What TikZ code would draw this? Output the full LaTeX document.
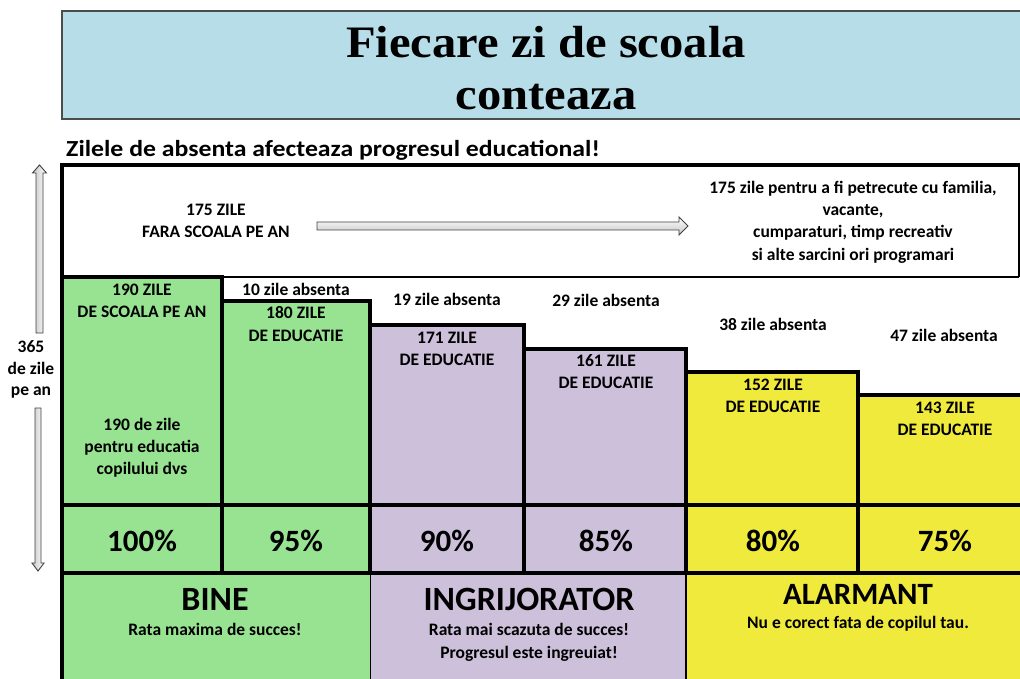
\documentclass[tikz,border=0pt]{standalone}
\usepackage{fontspec}
\setmainfont{Carlito}
\newfontfamily\titlefont[FakeStretch=1.08]{Liberation Serif}
\newfontfamily\subfont[FakeStretch=1.12]{Carlito}
\definecolor{cgreen}{RGB}{152,227,145}
\definecolor{cpurple}{RGB}{204,192,218}
\definecolor{cyellow}{RGB}{240,234,60}
\definecolor{ctitle}{RGB}{183,221,232}
\begin{document}
\begin{tikzpicture}[x=1pt,y=-1pt,
  lbl/.style={font=\fontsize{17.5}{20}\selectfont\bfseries, anchor=base, inner sep=0pt},
  sub/.style={font=\fontsize{23}{26}\selectfont\subfont\bfseries, anchor=base west, inner sep=0pt},
  pct/.style={font=\fontsize{31}{36}\selectfont\bfseries, anchor=base, inner sep=0pt},
  cat/.style={font=\fontsize{34}{40}\selectfont\bfseries, anchor=base, inner sep=0pt},
  ttl/.style={font=\fontsize{45}{50}\selectfont\titlefont\bfseries, anchor=base, inner sep=0pt},
  heavy/.style={line width=4pt},
  light/.style={line width=1.3pt},
  arrowbox/.style={draw=black!75, line width=0.9pt, line join=miter}]
\useasboundingbox (0,0) rectangle (1020,679);
% title
\fill[ctitle] (62,11) rectangle (1020,119);
\draw[line width=1.2pt, black!70] (1021,11) -- (62,11) -- (62,119) -- (1021,119);
\node[ttl] (t1) at (546,58) {Fiecare zi de scoala};
\node[ttl] (t2) at (546,110) {conteaza};
\node[sub] (subt) at (66,157) {Zilele de absenta afecteaza progresul educational!};
% column fills
\fill[cgreen] (62,277) rectangle (222,573);
\fill[cgreen] (222,301) rectangle (370,573);
\fill[cpurple] (370,325) rectangle (524,573);
\fill[cpurple] (524,349) rectangle (686,573);
\fill[cyellow] (686,372) rectangle (858,573);
\fill[cyellow] (858,395) rectangle (1020,573);
% bottom fills
\fill[cgreen] (62,573) rectangle (370,679);
\fill[cpurple] (370,573) rectangle (686,679);
\fill[cyellow] (686,573) rectangle (1020,679);
% top region lines
\draw[light] (222,277) -- (1019,277);
\draw[light] (1019,165) -- (1019,277);
\draw[heavy] (62,165) -- (1022,165);
\draw[heavy] (62,163) -- (62,681);
% steps
\draw[heavy, line join=miter] (62,277) -- (222,277) -- (222,301) -- (370,301) -- (370,325) -- (524,325) -- (524,349) -- (686,349) -- (686,372) -- (858,372) -- (858,395) -- (1022,395);
\draw[heavy] (222,277) -- (222,573);
\draw[heavy] (370,301) -- (370,573);
\draw[heavy] (524,325) -- (524,573);
\draw[heavy] (686,349) -- (686,573);
\draw[heavy] (858,372) -- (858,573);
\draw[heavy] (62,505) -- (1022,505);
\draw[heavy] (62,573) -- (1022,573);
\draw[line width=0.8pt] (370,573) -- (370,681);
\draw[line width=1.8pt] (686,573) -- (686,681);
% horizontal arrow
\shade[top color=white, bottom color=gray!45, arrowbox] (317,222) -- (679,222) -- (679,217) -- (688,226) -- (679,235) -- (679,230) -- (317,230) -- cycle;
% up arrow
\shade[left color=gray!45, right color=white, arrowbox] (36,333) -- (36,173) -- (32.5,173) -- (39.5,165) -- (46.5,173) -- (43,173) -- (43,333) -- cycle;
% down arrow
\shade[left color=gray!45, right color=white, arrowbox] (35,408) -- (35,563) -- (32,563) -- (38,571) -- (44,563) -- (41,563) -- (41,408) -- cycle;
% left labels
\node[lbl] (y1) at (31,352) {365};
\node[lbl] (y2) at (31,374) {de zile};
\node[lbl] (y3) at (31,395) {pe an};
% top region texts
\node[lbl] (f1) at (216,216) {175 ZILE};
\node[lbl] (f2) at (216,238) {FARA SCOALA PE AN};
\node[lbl] (r1) at (853,194) {175 zile pentru a fi petrecute cu familia,};
\node[lbl] (r2) at (853,216) {vacante,};
\node[lbl] (r3) at (853,238) {cumparaturi, timp recreativ};
\node[lbl] (r4) at (853,260) {si alte sarcini ori programari};
% column 1
\node[lbl] (c1a) at (142,295) {190 ZILE};
\node[lbl] (c1b) at (142,317) {DE SCOALA PE AN};
\node[lbl] (c1c) at (142,430) {190 de zile};
\node[lbl] (c1d) at (142,452) {pentru educatia};
\node[lbl] (c1e) at (142,474) {copilului dvs};
% column 2
\node[lbl] (c2z) at (296,295) {10 zile absenta};
\node[lbl] (c2a) at (296,318) {180 ZILE};
\node[lbl] (c2b) at (296,341) {DE EDUCATIE};
% column 3
\node[lbl] (c3z) at (447,305) {19 zile absenta};
\node[lbl] (c3a) at (447,343) {171 ZILE};
\node[lbl] (c3b) at (447,365) {DE EDUCATIE};
% column 4
\node[lbl] (c4z) at (606,306) {29 zile absenta};
\node[lbl] (c4a) at (606,366) {161 ZILE};
\node[lbl] (c4b) at (606,388) {DE EDUCATIE};
% column 5
\node[lbl] (c5z) at (773,330) {38 zile absenta};
\node[lbl] (c5a) at (773,390) {152 ZILE};
\node[lbl] (c5b) at (773,412) {DE EDUCATIE};
% column 6
\node[lbl] (c6z) at (944,341) {47 zile absenta};
\node[lbl] (c6a) at (945,413) {143 ZILE};
\node[lbl] (c6b) at (945,435) {DE EDUCATIE};
% percentages
\node[pct] (p1) at (142,551) {100\%};
\node[pct] (p2) at (296,551) {95\%};
\node[pct] (p3) at (447,551) {90\%};
\node[pct] (p4) at (606,551) {85\%};
\node[pct] (p5) at (773,551) {80\%};
\node[pct] (p6) at (945,551) {75\%};
% categories
\node[cat] (k1) at (215,610) {BINE};
\node[lbl] (k1a) at (215,635) {Rata maxima de succes!};
\node[cat] (k2) at (529,610) {INGRIJORATOR};
\node[lbl] (k2a) at (529,635) {Rata mai scazuta de succes!};
\node[lbl] (k2b) at (529,658) {Progresul este ingreuiat!};
\node[cat, font=\fontsize{31}{36}\selectfont\bfseries] (k3) at (858,604) {ALARMANT};
\node[lbl] (k3a) at (858,628) {Nu e corect fata de copilul tau.};
\end{tikzpicture}
\end{document}
